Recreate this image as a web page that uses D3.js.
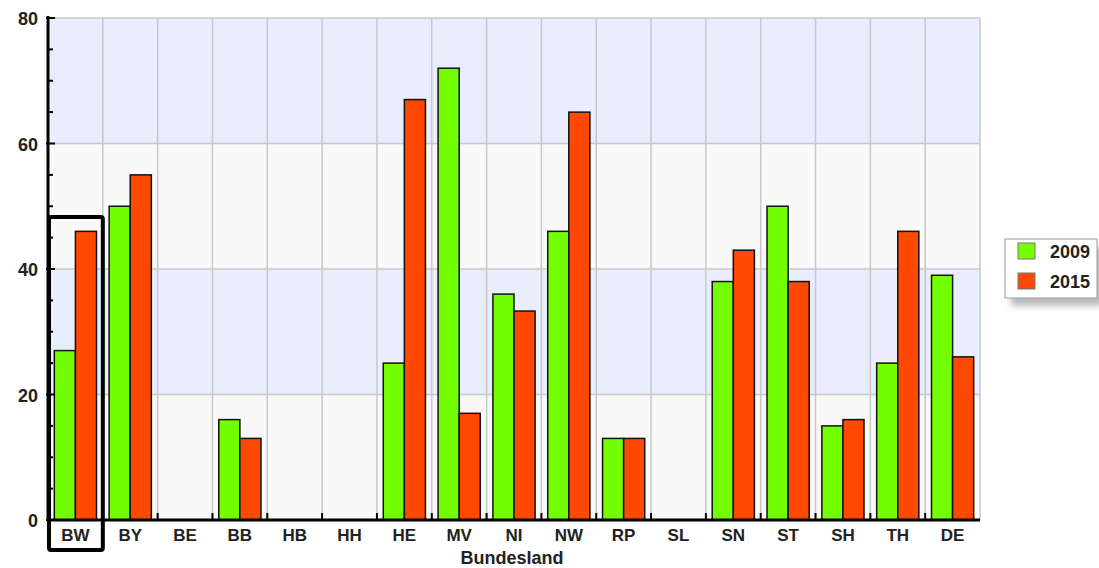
<!DOCTYPE html>
<html>
<head>
<meta charset="utf-8">
<script src="https://cdn.jsdelivr.net/npm/d3@7"></script>
<style>
  body { margin: 0; background: #fff; }
  svg text { font-family: "Liberation Sans", Arial, sans-serif; }
</style>
</head>
<body>
<div id="container"></div>
<script>
let w = 1099;
let h = 568;

// data
let states = ["BW","BY","BE","BB","HB","HH","HE","MV","NI","NW","RP","SL","SN","ST","SH","TH","DE"];
let years = ["2009", "2015"];
let values2009 = [27, 50, 0, 16, 0, 0, 25, 72, 36, 46, 13, 0, 38, 50, 15, 25, 39];
let values2015 = [46, 55, 0, 13, 0, 0, 67, 17, 33.3, 65, 13, 0, 43, 38, 16, 46, 26];
let yTicks = [0, 20, 40, 60, 80];
let highlighted = "BW";

let colors = {"2009": "#74ff00", "2015": "#ff4800"};

let plotLeft = 48, plotRight = 980, plotTop = 18, plotBottom = 520;

let viz = d3.select("#container")
  .append("svg")
    .attr("width", w)
    .attr("height", h)
;

let defs = viz.append("defs");
let blur = defs.append("filter").attr("id", "shadow").attr("x", "-20%").attr("y", "-20%").attr("width", "150%").attr("height", "160%");
blur.append("feGaussianBlur").attr("stdDeviation", 3);

let xScale = d3.scaleBand().domain(states).range([plotLeft, plotRight]);
let xInner = d3.scaleBand().domain(years).range([0, xScale.bandwidth()]).paddingOuter(0.3);
let yScale = d3.scaleLinear().domain([0, 80]).range([plotBottom, plotTop]);

// background bands
let bands = [[0, 20, "#f9f9f9"], [20, 40, "#e8eeff"], [40, 60, "#f9f9f9"], [60, 80, "#e8eeff"]];
viz.append("g").selectAll("rect").data(bands).enter().append("rect")
  .attr("x", plotLeft)
  .attr("width", plotRight - plotLeft)
  .attr("y", d => yScale(d[1]))
  .attr("height", d => yScale(d[0]) - yScale(d[1]))
  .attr("fill", d => d[2]);

// grid
let grid = viz.append("g").attr("stroke", "#c8c8c8").attr("stroke-width", 1.5);
grid.selectAll(".vline").data(states.slice(1)).enter().append("line")
  .attr("x1", d => xScale(d)).attr("x2", d => xScale(d))
  .attr("y1", plotTop).attr("y2", plotBottom);
grid.append("line").attr("x1", plotRight).attr("x2", plotRight).attr("y1", plotTop).attr("y2", plotBottom);
grid.selectAll(".hline").data(yTicks.slice(1)).enter().append("line")
  .attr("x1", plotLeft).attr("x2", plotRight)
  .attr("y1", d => yScale(d)).attr("y2", d => yScale(d));

// bars
let rows = states.map((s, i) => ({state: s, v: [values2009[i], values2015[i]]}));
let groups = viz.append("g").selectAll("g").data(rows).enter().append("g")
  .attr("transform", d => "translate(" + xScale(d.state) + ",0)");
groups.selectAll("rect").data(d => years.map((y, j) => ({year: y, value: d.v[j]})).filter(e => e.value > 0))
  .enter().append("rect")
  .attr("x", d => xInner(d.year))
  .attr("width", xInner.bandwidth())
  .attr("y", d => yScale(d.value))
  .attr("height", d => plotBottom - yScale(d.value))
  .attr("fill", d => colors[d.year])
  .attr("stroke", "#111")
  .attr("stroke-width", 1.5);

// y axis
let yAxisGroup = viz.append("g");
yAxisGroup.append("line").attr("x1", plotLeft).attr("x2", plotLeft).attr("y1", plotTop - 2).attr("y2", plotBottom + 1)
  .attr("stroke", "#000").attr("stroke-width", 3);
let minor = d3.range(0, 81, 5);
yAxisGroup.selectAll(".tk").data(minor).enter().append("line")
  .attr("x1", d => d % 20 === 0 ? plotLeft - 2 : plotLeft)
  .attr("x2", d => d % 20 === 0 ? plotLeft + 7 : plotLeft + 5)
  .attr("y1", d => yScale(d)).attr("y2", d => yScale(d))
  .attr("stroke", "#000").attr("stroke-width", 2);
yAxisGroup.selectAll("text").data(yTicks).enter().append("text")
  .attr("x", 38).attr("y", d => yScale(d) + 7)
  .attr("text-anchor", "end")
  .attr("font-size", 18).attr("font-weight", "bold").attr("fill", "#222")
  .text(d => d);

// x axis
let xAxisGroup = viz.append("g");
xAxisGroup.append("line").attr("x1", plotLeft).attr("x2", plotRight).attr("y1", plotBottom).attr("y2", plotBottom)
  .attr("stroke", "#000").attr("stroke-width", 3);
xAxisGroup.selectAll(".tk").data(states.slice(1)).enter().append("line")
  .attr("x1", d => xScale(d)).attr("x2", d => xScale(d))
  .attr("y1", plotBottom).attr("y2", plotBottom - 7)
  .attr("stroke", "#000").attr("stroke-width", 2);
xAxisGroup.selectAll("text").data(states).enter().append("text")
  .attr("x", d => xScale(d) + xScale.bandwidth() / 2)
  .attr("y", 541)
  .attr("text-anchor", "middle")
  .attr("font-size", 17).attr("font-weight", "bold").attr("fill", "#222")
  .text(d => d);
viz.append("text")
  .attr("x", (plotLeft + plotRight) / 2 - 2).attr("y", 564)
  .attr("text-anchor", "middle")
  .attr("font-size", 18).attr("font-weight", "bold").attr("fill", "#222")
  .text("Bundesland");

// highlight box
viz.append("rect")
  .attr("x", xScale(highlighted) + 1)
  .attr("y", 217)
  .attr("width", xScale.bandwidth() - 1)
  .attr("height", 333)
  .attr("rx", 2)
  .attr("fill", "none")
  .attr("stroke", "#000")
  .attr("stroke-width", 4);

// legend
let legend = viz.append("g").attr("transform", "translate(1005, 239)");
legend.append("rect").attr("x", 6).attr("y", 8).attr("width", 92).attr("height", 59)
  .attr("fill", "#bbb").attr("filter", "url(#shadow)");
legend.append("rect").attr("x", 0).attr("y", 0).attr("width", 92).attr("height", 59)
  .attr("fill", "#fff").attr("stroke", "#999").attr("stroke-width", 1);
let items = legend.selectAll(".item").data(years).enter().append("g")
  .attr("transform", (d, i) => "translate(13," + (4 + i * 30) + ")");
items.append("rect").attr("width", 17).attr("height", 16)
  .attr("fill", d => colors[d]).attr("stroke", "#777").attr("stroke-width", 1);
items.append("text").attr("x", 32).attr("y", 15)
  .attr("font-size", 18).attr("font-weight", "bold").attr("fill", "#222")
  .text(d => d);
</script>
</body>
</html>
